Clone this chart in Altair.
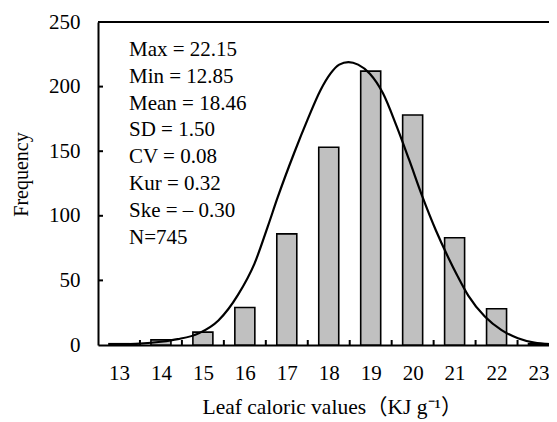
import altair as alt
import pandas as pd

# ---- data ----
categories = [13, 14, 15, 16, 17, 18, 19, 20, 21, 22, 23]
frequency = [1, 4, 10, 29, 86, 153, 212, 178, 83, 28, 1]

curve_x = [12.9, 13.5, 14.0, 14.4, 14.9, 15.37, 15.84, 16.23, 16.55, 16.78, 17.18,
           17.49, 17.80, 18.04, 18.25, 18.47, 18.7, 18.98, 19.29, 19.61, 19.92,
           20.23, 20.55, 20.86, 21.06, 21.33, 21.72, 22.12, 22.51, 22.9, 23.3]
curve_y = [0.3, 1.0, 2.5, 4.5, 9, 19, 39, 63, 92, 114, 149,
           174, 197, 210, 217, 219, 217, 210, 195, 170, 143,
           115, 89, 67, 54, 38, 22, 11.5, 5.2, 1.8, 0.5]

x_tick_positions = [13.5, 14.5, 15.5, 16.5, 17.5, 18.5, 19.5, 20.5, 21.5, 22.5]
y_tick_values = [0, 50, 100, 150, 200, 250]
y_inner_ticks = [50, 100, 150, 200]

stat_lines = ["Max = 22.15", "Min = 12.85", "Mean = 18.46", "SD = 1.50",
              "CV = 0.08", "Kur = 0.32", "Ske = \u2013 0.30", "N=745"]

x_title = "Leaf caloric values\uff08KJ g\u207b\u00b9\uff09"
y_title = "Frequency"

# ---- layout / style ----
W, H = 451, 323
FONT = "Liberation Serif, Noto Sans CJK SC, serif"

bars_df = pd.DataFrame({"value": categories, "freq": frequency})
curve_df = pd.DataFrame({"value": curve_x, "freq": curve_y})
xt_df = pd.DataFrame({"value": x_tick_positions})
yt_df = pd.DataFrame({"freq": y_inner_ticks})

xscale = alt.Scale(domain=[12.5, 23.25], nice=False, zero=False, padding=0)
yscale = alt.Scale(domain=[0, 250], nice=False, padding=0)

x_axis = alt.Axis(
    values=categories, ticks=False, grid=False, domainColor="black", domainWidth=2,
    labelFont=FONT, labelFontSize=21, labelColor="black", labelPadding=17,
    labelFlush=False, labelOverlap=False,
    title=x_title, titleFont=FONT, titleFontSize=21.5, titleFontWeight="normal",
    titleColor="black", titleX=234, titleY=68, titleAlign="center",
    titleBaseline="alphabetic",
)
y_axis = alt.Axis(
    values=y_tick_values, ticks=False, grid=False, domainColor="black", domainWidth=2,
    labelFont=FONT, labelFontSize=21, labelColor="black", labelPadding=18,
    labelFlush=False, labelOverlap=False,
    title=y_title, titleFont=FONT, titleFontSize=20, titleFontWeight="normal",
    titleColor="black", titleAngle=270, titleX=-71, titleY=152, titleAlign="center",
    titleBaseline="alphabetic",
)

bars = alt.Chart(bars_df).mark_bar(
    size=20, fill="#c0c0c0", stroke="black", strokeWidth=1.6, clip=True
).encode(
    x=alt.X("value:Q", scale=xscale, axis=x_axis),
    y=alt.Y("freq:Q", scale=yscale, axis=y_axis),
)

curve = alt.Chart(curve_df).mark_line(
    color="black", strokeWidth=2.2, interpolate="monotone", clip=True
).encode(
    x=alt.X("value:Q", scale=xscale),
    y=alt.Y("freq:Q", scale=yscale),
)

x_ticks = alt.Chart(xt_df).mark_rule(color="black", strokeWidth=2).encode(
    x=alt.X("value:Q", scale=xscale),
    y=alt.value(H),
    y2=alt.value(H - 5),
)

y_ticks = alt.Chart(yt_df).mark_rule(color="black", strokeWidth=2).encode(
    y=alt.Y("freq:Q", scale=yscale),
    x=alt.value(0),
    x2=alt.value(5),
)

top_line = alt.Chart(bars_df).mark_rule(color="black", strokeWidth=2).encode(
    x=alt.value(0), x2=alt.value(W), y=alt.value(0)
)

stats = alt.Chart(pd.DataFrame({"a": [0]})).mark_text(
    align="left", baseline="alphabetic", font=FONT, fontSize=21, color="black",
    lineHeight=26.8,
).encode(
    x=alt.value(31), y=alt.value(34), text=alt.value(stat_lines)
)

chart = alt.layer(bars, curve, x_ticks, y_ticks, top_line, stats).properties(
    width=W, height=H,
    autosize=alt.AutoSizeParams(type="none"),
    padding={"left": 90, "top": 14, "right": 0, "bottom": 76},
    background="white",
).configure_view(stroke=None)

chart.save("out.html", embed_options={"renderer": "svg", "actions": False})
